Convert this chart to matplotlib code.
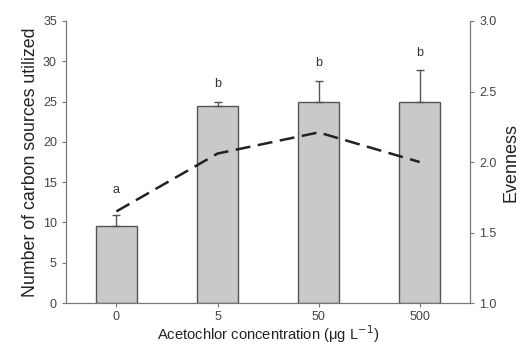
import matplotlib.pyplot as plt
import numpy as np

plt.rcParams['font.family'] = ['Liberation Sans', 'DejaVu Sans']

conc = ['0', '5', '50', '500']
carbon = [9.5, 24.5, 25.0, 25.0]
carbon_err = [1.4, 0.5, 2.6, 3.9]
letters = ['a', 'b', 'b', 'b']
evenness = [1.65, 2.06, 2.21, 2.0]

x = np.arange(len(conc))

fig = plt.figure(figsize=(5.23, 3.44), dpi=100)
ax = fig.add_axes([0.126, 0.119, 0.773, 0.82])

ax.bar(x, carbon, width=0.41, color='#c9c9c9', edgecolor='#555555', linewidth=1.0, zorder=2)
ax.errorbar(x, carbon, yerr=[np.zeros(len(x)), carbon_err], fmt='none',
            ecolor='#555555', elinewidth=1.0, capsize=3, capthick=1.0, zorder=3)
for i in range(len(x)):
    off = 2.4 if i == 0 else 1.4
    ax.text(x[i], carbon[i] + carbon_err[i] + off, letters[i], ha='center', va='bottom',
            fontsize=9, color='#333333')

ax.set_xlim(-0.5, 3.5)
ax.set_ylim(0, 35)
ax.set_yticks(range(0, 36, 5))
ax.set_xticks(x)
ax.set_xticklabels(conc)
ax.set_ylabel('Number of carbon sources utilized', fontsize=12.8, color='#222222', labelpad=3)
ax.set_xlabel('Acetochlor concentration (μg L$^{-1}$)', fontsize=10.6, color='#222222', labelpad=0)

ax2 = ax.twinx()
ax2.plot(x, evenness, color='#222222', linestyle=(0, (6, 3)), linewidth=1.8, zorder=4)
ax2.set_ylim(1.0, 3.0)
ax2.set_yticks([1.0, 1.5, 2.0, 2.5, 3.0])
ax2.set_yticklabels(['1.0', '1.5', '2.0', '2.5', '3.0'])
ax2.set_ylabel('Evenness', fontsize=13, color='#222222')

for a in (ax, ax2):
    a.spines['top'].set_visible(False)
    for s in ('left', 'right', 'bottom'):
        a.spines[s].set_color('#777777')
    a.tick_params(direction='out', colors='#777777', labelcolor='#444444', labelsize=9, length=3)
ax.tick_params(axis='x', pad=3)

fig.savefig('out.png', dpi=100)
